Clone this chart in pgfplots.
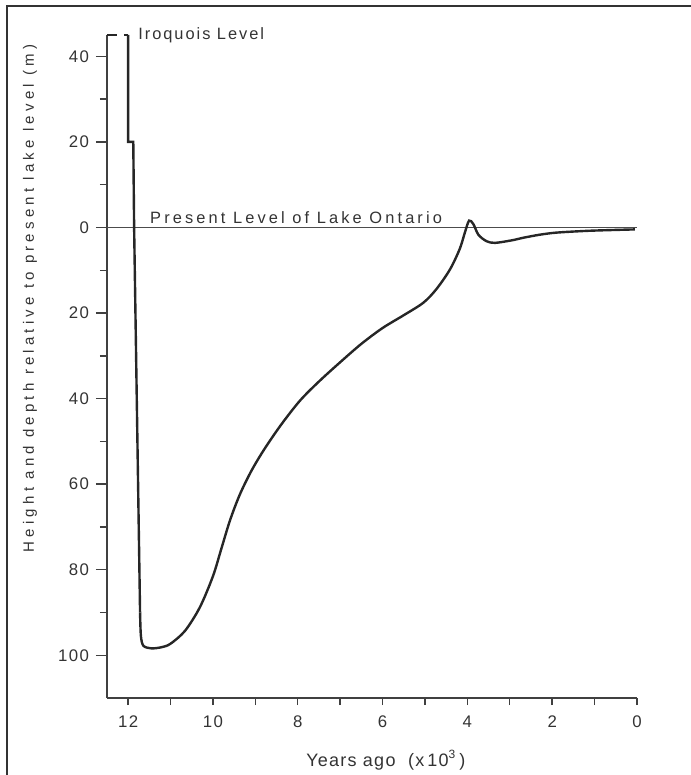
\documentclass[border=0pt]{standalone}
\usepackage{fontspec}
\setmainfont{Liberation Sans}
\usepackage{pgfplots}
\pgfplotsset{compat=1.18}
\usetikzlibrary{calc}

\begin{document}
\begin{tikzpicture}
\begin{axis}[
  scale only axis, width=265pt, height=331.5pt,
  x dir=reverse, xmin=0, xmax=12.5, ymin=-110, ymax=45,
  axis x line=bottom, axis y line=left,
  axis line style={-, line width=0.75pt, black!75},
  tick align=outside,
  xtick={0,2,...,12}, minor xtick={0,1,...,12},
  major x tick style={draw=none},
  ytick={-100,-80,-60,-40,-20,0,20,40},
  yticklabels={100,80,60,40,20,0,20,40},
  minor ytick={-90,-70,-50,-30,-10,10,30},
  major tick length=5.5pt, minor tick length=3.5pt,
  every tick/.style={black!75, line width=0.7pt},
  /pgf/number format/assume math mode=true,
  tick label style={font=\fontsize{8.4}{9}\selectfont\addfontfeatures{LetterSpace=8}, text=black!80},
  xlabel={\addfontfeatures{LetterSpace=7}Years ago\ \ (x\,10\textsuperscript{3}\,)},
  xlabel style={font=\fontsize{9}{10}\selectfont, text=black!80,
    at={(axis description cs:0.526,-0.1026)}, anchor=base},
  ylabel={\addfontfeatures{LetterSpace=28}Height and depth relative to present lake level (m)},
  ylabel style={font=\fontsize{7.5}{8}\selectfont, text=black!80,
    at={(axis description cs:-0.1453,0.6026)}, anchor=center},
  clip=false,
]
% present lake level
\addplot[black!70, line width=0.5pt] coordinates {(12.5,0) (0,0)};
% Iroquois level
\addplot[black!85, line width=0.9pt, dash pattern=on 5pt off 3.5pt] coordinates {(12.5,45) (12.0,45)};
% steps down from Iroquois level
\addplot[black!85, line width=1.2pt] coordinates {
  (12.0,45) (12.0,20) (11.88,20) (11.86,0) (11.72,-90)
};
% lowstand and rise to present
\addplot[black!85, line width=1.2pt, smooth] coordinates {
  (11.72,-90) (11.70,-95.5) (11.64,-97.8) (11.45,-98.4) (11.2,-98.1)
  (11.0,-97.3) (10.66,-94.3) (10.31,-88.8) (10.0,-81.5) (9.8,-75)
  (9.6,-68.5) (9.37,-62.5) (9.1,-57) (8.8,-52) (8.4,-46.2)
  (7.95,-40.5) (7.5,-36) (7.0,-31.5) (6.5,-27.2) (6.0,-23.5)
  (5.5,-20.5) (5.04,-17.6) (4.73,-14.4) (4.41,-9.8) (4.18,-5)
  (4.06,-1.2) (3.96,1.6) (3.86,0.8) (3.74,-1.7) (3.55,-3.2)
  (3.35,-3.6) (2.95,-3.0) (2.68,-2.4) (2.3,-1.7) (1.9,-1.2)
  (1.2,-0.8) (0.6,-0.6) (0.05,-0.45)
};
\node[anchor=west, inner sep=0pt, text=black!80,
  font=\fontsize{8.2}{9}\selectfont\addfontfeatures{LetterSpace=12}]
  at (axis cs:11.77,45) {Iroquois Level};
\node[anchor=base west, inner sep=0pt, text=black!80,
  font=\fontsize{8.2}{9}\selectfont\addfontfeatures{LetterSpace=19}]
  at (axis cs:11.49,0.9) {Present Level of Lake Ontario};
\coordinate (SW) at (rel axis cs:0,0);
\coordinate (NW) at (rel axis cs:0,1);
\coordinate (NE) at (rel axis cs:1,1);
\end{axis}
\pgfresetboundingbox
\useasboundingbox ($(SW)+(-53.5pt,-38.5pt)$) rectangle ($(NE)+(26.5pt,17.5pt)$);
\draw[line width=1pt, black!80] ($(SW)+(-50pt,-60pt)$) -- ($(NW)+(-50pt,14.5pt)$) -- ($(NE)+(40pt,14.5pt)$);
\end{tikzpicture}
\end{document}
